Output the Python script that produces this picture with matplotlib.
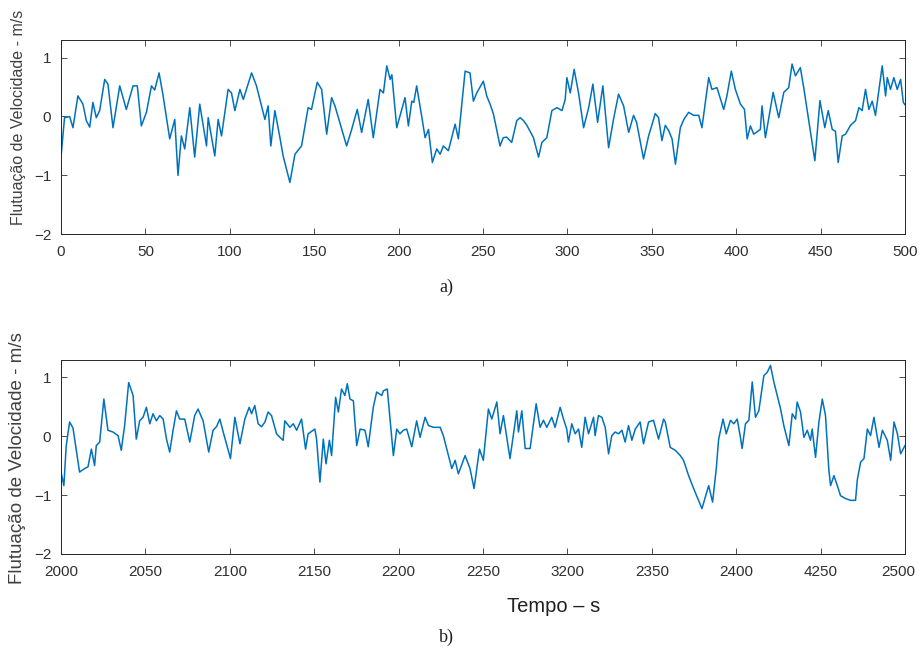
import matplotlib
matplotlib.use("Agg")
import matplotlib.pyplot as plt
from matplotlib.transforms import ScaledTranslation

# ---- data: panel a) (time 0-500 s) ----
t_a = [0, 2.1, 5.1, 7.1, 10, 13, 15, 17, 18.9, 20.9, 22.9, 25.9, 27.8, 30.8, 34.8, 38.7, 42.7, 45.2,
       47.6, 50.6, 53.6, 55.5, 58.1, 60.5, 64.4, 67.4, 69.3, 71.3, 73.3, 76.3, 79.2, 82.2, 86.2, 87.2,
       91.1, 93.1, 95.1, 99, 101, 103, 106, 108, 112.9, 115.8, 120.8, 122.7, 124.3, 126.7, 129.7,
       131.6, 135.6, 138.6, 142.5, 146.4, 148.4, 151.8, 154.4, 157.4, 160.3, 162.3, 169.2, 172.2,
       175.5, 178.1, 182, 185, 189, 191, 193, 195, 196, 198.9, 203.8, 205.8, 207.8, 209, 210.7, 213.7,
       215.7, 217.7, 220, 222.6, 224.6, 226.5, 229.5, 233.5, 235.4, 239.4, 242.3, 244.3, 246.3, 250.2,
       252.2, 254.2, 256.2, 260.1, 262, 264, 267, 270, 272, 274, 276, 279.9, 282.9, 284.9, 287.8,
       290.8, 293.8, 296.8, 298.7, 299.7, 301.7, 304, 306.6, 309.6, 312.6, 315.1, 317.9, 321, 324.4,
       327.3, 330.3, 333.3, 336.3, 339.2, 341, 345.1, 348.1, 350, 352, 354, 356, 358, 360, 362, 364,
       366.9, 369, 371.8, 374.8, 377.8, 379.7, 383.7, 385.6, 388.6, 392.6, 394.5, 397.1, 399.5, 402.5,
       404.9, 406.5, 408.4, 410.4, 414.3, 415.3, 417.3, 421.9, 425.2, 428.2, 431.1, 433.1, 435.1,
       438, 440, 446.6, 449.6, 452.5, 454.5, 456.9, 458.8, 460.4, 462.8, 464.8, 467.7, 470.7, 472.7,
       474.6, 476.6, 478.6, 480.6, 482.5, 486.5, 488.5, 489.5, 491.4, 493.4, 495.4, 497.4, 499, 500]
v_a = [-0.69, -0.02, 0.0, -0.19, 0.35, 0.21, -0.07, -0.18, 0.24, -0.02, 0.1, 0.63, 0.55, -0.19, 0.52,
       0.12, 0.52, 0.52, -0.16, 0.07, 0.52, 0.45, 0.74, 0.35, -0.38, -0.05, -1.0, -0.33, -0.55, 0.15,
       -0.69, 0.21, -0.5, -0.02, -0.67, -0.05, -0.33, 0.46, 0.4, 0.1, 0.46, 0.29, 0.74, 0.52, -0.05,
       0.18, -0.5, 0.1, -0.36, -0.67, -1.12, -0.64, -0.5, 0.15, 0.12, 0.58, 0.46, -0.3, 0.32, 0.18,
       -0.5, -0.22, 0.12, -0.27, 0.29, -0.36, 0.46, 0.4, 0.86, 0.63, 0.71, -0.19, 0.32, -0.16, 0.26,
       0.24, 0.52, 0.0, -0.36, -0.22, -0.78, -0.55, -0.64, -0.5, -0.58, -0.13, -0.38, 0.77, 0.74, 0.26,
       0.4, 0.6, 0.35, 0.21, 0.04, -0.5, -0.36, -0.35, -0.44, -0.07, -0.02, -0.07, -0.15, -0.36,
       -0.69, -0.44, -0.36, 0.1, 0.15, 0.1, 0.29, 0.66, 0.4, 0.8, 0.4, -0.19, 0.15, 0.55, -0.1, 0.52,
       -0.53, -0.05, 0.38, 0.18, -0.27, 0.02, -0.1, -0.72, -0.33, -0.15, 0.05, -0.02, -0.41, -0.15,
       -0.24, -0.38, -0.81, -0.19, -0.05, 0.07, 0.02, 0.02, -0.19, 0.66, 0.46, 0.49, 0.12, 0.35, 0.77,
       0.46, 0.21, 0.12, -0.38, -0.16, -0.3, -0.22, 0.18, -0.36, 0.41, -0.02, 0.41, 0.49, 0.89, 0.69,
       0.83, 0.49, -0.75, 0.27, -0.19, 0.1, -0.22, -0.25, -0.78, -0.33, -0.3, -0.15, -0.07, 0.15, 0.1,
       0.46, 0.12, 0.26, 0.02, 0.86, 0.35, 0.66, 0.46, 0.66, 0.46, 0.63, 0.24, 0.2]

# ---- data: panel b) (time offset from 2000 s), in four stretches ----
tb1 = [0, 1.7, 3.1, 5.1, 7.1, 11, 14, 16, 18, 19.9,
       20.9, 22.9, 25.4, 27.8, 30.8, 33.8, 35.7, 37.7, 40.1, 42.7,
       44.6, 46.6, 48.6, 50.6, 52.6, 54.5, 56.5, 58.5, 60.5, 62.5,
       64.4, 66.4, 68.4, 70.3, 73.3, 76.3, 79.2, 81.2, 84.2, 87.5,
       90.1, 92.1, 94.1, 96.1, 100.4, 103, 106, 108.9, 111.5, 112.9,
       114.8, 116.8, 118.8, 120.8, 122.7, 124.7]
vb1 = [-0.61, -0.84, -0.16, 0.24, 0.14, -0.61, -0.55, -0.52, -0.22, -0.5,
       -0.16, -0.1, 0.63, 0.1, 0.07, 0.01, -0.24, 0.18, 0.91, 0.69,
       -0.05, 0.26, 0.32, 0.49, 0.21, 0.38, 0.26, 0.35, 0.29, -0.05,
       -0.27, 0.1, 0.43, 0.29, 0.29, -0.1, 0.35, 0.46, 0.26, -0.27,
       0.1, 0.16, 0.29, 0.07, -0.38, 0.32, -0.13, 0.29, 0.49, 0.38,
       0.52, 0.21, 0.16, 0.24, 0.41, 0.35]
tb2 = [127.7, 129.7, 131.6, 132.6, 135.6, 137.6, 139.6, 142.5, 144.9, 146.4,
       150.4, 151.4, 153.4, 155.4, 157, 159, 160.3, 162.7, 164.3, 166.2,
       168.2, 169.6, 171.2, 173.2, 175.2, 177.2, 180.1, 182, 185, 187,
       190, 191, 193.3, 196.9, 198.9, 200.8, 202.8, 204.8, 207.8, 210.7,
       212.7, 215.7, 217.7, 220.6, 224.6, 226.5, 229.5, 231.5, 233.5, 235.4,
       239.4, 242.3, 244.7, 247.9, 250.2, 253.2, 255.2, 258.2]
vb2 = [0.04, -0.02, -0.07, 0.26, 0.15, 0.21, 0.1, 0.29, -0.22, 0.04,
       0.12, -0.05, -0.78, -0.05, -0.47, -0.07, -0.33, 0.66, 0.41, 0.8,
       0.69, 0.89, 0.63, 0.6, -0.16, 0.12, 0.1, -0.18, 0.49, 0.75,
       0.69, 0.77, 0.8, -0.33, 0.12, 0.04, 0.1, 0.12, -0.18, 0.26,
       -0.02, 0.32, 0.18, 0.15, 0.15, 0.01, -0.33, -0.55, -0.41, -0.64,
       -0.33, -0.55, -0.89, -0.22, -0.41, 0.46, 0.29, 0.58]
tb3 = [260.1, 262.1, 266, 270, 271, 273, 275, 277.9, 281.5, 283.8,
       285.8, 287.8, 290.7, 292.7, 295.7, 297.7, 299.6, 300.6, 302.6, 304.6,
       306.6, 308.5, 310.5, 312.5, 315.5, 316.4, 318.4, 320.4, 322.4, 324.4,
       326.3, 328.3, 330.3, 332.3, 334.2, 336.2, 338.2, 340.2, 343.1, 345.1,
       348.1, 351, 354, 357, 358, 360.9, 363.9, 366.9, 368.8, 371.8,
       374.8, 379.7, 383.7, 386, 388.2, 389.6, 392.2, 394.1]
vb3 = [0.04, 0.35, -0.38, 0.43, 0.07, 0.43, -0.21, -0.21, 0.55, 0.15,
       0.27, 0.15, 0.32, 0.15, 0.49, 0.29, 0.12, -0.1, 0.21, 0.04,
       0.12, -0.19, 0.32, 0.04, 0.32, 0.01, 0.35, 0.32, 0.15, -0.3,
       0.01, 0.07, 0.04, 0.1, -0.1, 0.18, -0.07, 0.12, 0.24, -0.13,
       0.24, 0.27, -0.05, 0.29, 0.24, -0.19, -0.24, -0.33, -0.41, -0.67,
       -0.89, -1.23, -0.84, -1.12, -0.55, -0.05, 0.29, 0.04]
tb4 = [396.6, 398.6, 400.6, 402.5, 403.5, 405.5, 407.5, 409.5, 411.4, 413.4,
       416.4, 418.3, 420.3, 422.3, 424.3, 426.3, 428.2, 431.2, 433.2, 435.2,
       436.1, 438.1, 440.1, 442.1, 444, 445, 447, 449, 451, 452.9,
       454.9, 455.9, 457.9, 459.9, 461.8, 464.8, 467.8, 470.7, 471.7, 473.7,
       475.7, 477.7, 479.6, 481.6, 484.6, 486.6, 489.5, 491.5, 493.5, 495.5,
       497.4, 500]
vb4 = [0.27, 0.21, 0.29, -0.02, -0.21, 0.21, 0.27, 0.92, 0.32, 0.43,
       1.03, 1.08, 1.2, 0.92, 0.69, 0.46, 0.18, -0.16, 0.38, 0.29,
       0.58, 0.41, -0.02, 0.1, -0.07, 0.12, -0.36, 0.24, 0.63, 0.35,
       -0.58, -0.84, -0.67, -0.84, -1.01, -1.06, -1.09, -1.09, -0.75, -0.44,
       -0.38, 0.12, 0.01, 0.32, -0.19, 0.1, -0.07, -0.41, 0.24, 0.04,
       -0.3, -0.16]
t0_b = 2000

ticks_a = [0, 50, 100, 150, 200, 250, 300, 350, 400, 450, 500]
ticks_b = [2000, 2050, 2100, 2150, 2200, 2250, 2300, 2350, 2400, 2450, 2500]
ticklabels_b = ['2000', '2050', '2100', '2150', '2200', '2250', '3200', '2350', '2400', '4250', '2500']
yticks = [-2, -1, 0, 1]

ylabel = 'Flutuação de Velocidade - m/s'
line_color = '#0072BD'
axis_color = '#262626'

t_b = [t0_b + t for t in tb1 + tb2 + tb3 + tb4]
v_b = vb1 + vb2 + vb3 + vb4

fig = plt.figure(figsize=(9.2, 6.48), dpi=100)
fig.patch.set_facecolor('white')

ax1 = fig.add_axes([0.0663, 0.6384, 0.9174, 0.30])
ax2 = fig.add_axes([0.0663, 0.1451, 0.9174, 0.30])

def style(ax, label_y, label_size):
    ax.set_ylim(-2, 1.3)
    ax.set_yticks(yticks)
    ax.tick_params(direction='in', top=True, right=True, length=4, width=0.6,
                   labelsize=11, colors='#303030')
    ax.tick_params(axis='x', pad=8)
    ax.tick_params(axis='y', pad=7)
    for lab in ax.get_xticklabels() + ax.get_yticklabels():
        lab.set_family('Liberation Sans')
    for sp in ax.spines.values():
        sp.set_color(axis_color)
        sp.set_linewidth(0.7)
    ax.set_ylabel(ylabel, fontsize=label_size, color='#404040', family='Liberation Sans')
    ax.yaxis.set_label_coords(-0.042, label_y)

ax1.plot(t_a, v_a, color=line_color, linewidth=1.1)
ax1.set_xlim(0, 500)
ax1.set_xticks(ticks_a)
style(ax1, 0.603, 11.5)

ax2.plot(t_b, v_b, color=line_color, linewidth=1.1)
ax2.set_xlim(2000, 2500)
ax2.set_xticks(ticks_b)
ax2.set_xticklabels(ticklabels_b)
style(ax2, 0.495, 13.5)

# keep the last bottom tick label inside the image
last = ax2.get_xticklabels()[-1]
last.set_transform(last.get_transform() + ScaledTranslation(-5 / 72, 0, fig.dpi_scale_trans))

fig.text(554 / 920, 1 - 606 / 648, 'Tempo – s', ha='center', va='center', fontsize=14.5,
         family='Liberation Sans', color='#202020')
fig.text(446 / 920, 1 - 287 / 648, 'a)', ha='center', va='center', fontsize=13,
         family='Liberation Serif', color='#202020')
fig.text(446 / 920, 1 - 637 / 648, 'b)', ha='center', va='center', fontsize=13,
         family='Liberation Serif', color='#202020')

fig.savefig('out.png', dpi=100, facecolor='white')
